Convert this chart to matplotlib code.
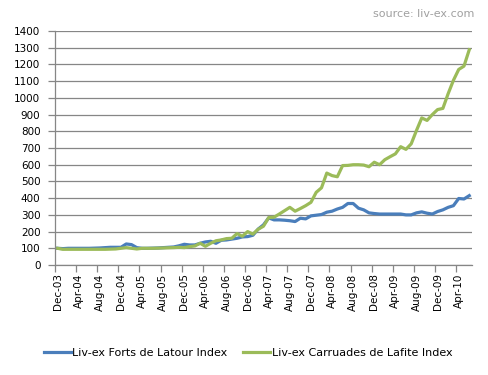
import matplotlib
matplotlib.use("Agg")
import matplotlib.pyplot as plt
import pandas as pd
from matplotlib.ticker import FixedLocator, MultipleLocator

# ------------------------------------------------------------
# Data (monthly index levels, Dec-03 = 100)
# ------------------------------------------------------------

months = pd.date_range("2003-12-01", "2010-06-01", freq="MS")

latour = [
    100, 98, 100, 100, 100, 100, 100, 101, 102, 104, 106, 106, 106,   # Dec-03 .. Dec-04
    126, 122, 104, 100, 100, 101, 102, 104, 106, 108, 115, 124,       # Jan-05 .. Dec-05
    120, 120, 130, 138, 142, 130, 148, 150, 155, 160, 168, 170,       # Jan-06 .. Dec-06
    178, 215, 240, 282, 270, 270, 268, 265, 260, 280, 276, 294,       # Jan-07 .. Dec-07
    298, 302, 316, 322, 335, 345, 368, 368, 340, 330, 312, 308,       # Jan-08 .. Dec-08
    305, 305, 305, 305, 305, 300, 300, 312, 318, 310, 305, 320,       # Jan-09 .. Dec-09
    330, 345, 355, 398, 395, 415,                                     # Jan-10 .. Jun-10
]

carruades = [
    100, 94, 94, 94, 94, 94, 94, 94, 94, 94, 95, 96, 100,             # Dec-03 .. Dec-04
    104, 100, 96, 100, 100, 100, 101, 102, 103, 104, 106, 104,        # Jan-05 .. Dec-05
    110, 114, 130, 112, 130, 145, 150, 158, 160, 188, 172, 200,       # Jan-06 .. Dec-06
    185, 214, 232, 284, 286, 305, 325, 345, 322, 338, 355, 375,       # Jan-07 .. Dec-07
    435, 462, 550, 535, 528, 595, 596, 600, 600, 598, 588, 615,       # Jan-08 .. Dec-08
    600, 630, 648, 665, 708, 692, 725, 805, 880, 865, 900, 930,       # Jan-09 .. Dec-09
    937, 1025, 1105, 1170, 1190, 1288,                                # Jan-10 .. Jun-10
]

series_names = ["Liv-ex Forts de Latour Index", "Liv-ex Carruades de Lafite Index"]
source_text = "source: liv-ex.com"

# ------------------------------------------------------------
# Plot
# ------------------------------------------------------------

BLUE = "#4A7EBB"
GREEN = "#9BBB59"
GRID = "#868686"

plt.rcParams["font.family"] = ["DejaVu Sans"]
plt.rcParams["font.size"] = 7.5

fig = plt.figure(figsize=(4.88, 3.75), dpi=100)
ax = fig.add_axes([0.1127, 0.2933, 0.8543, 0.624])

x = list(range(len(months)))
ax.plot(x, latour, color=BLUE, lw=2.3, label=series_names[0], solid_joinstyle="round")
ax.plot(x, carruades, color=GREEN, lw=2.3, label=series_names[1], solid_joinstyle="round")

ax.set_xlim(-0.5, len(months) - 0.5)
ax.set_ylim(0, 1400)
ax.yaxis.set_major_locator(MultipleLocator(100))
ax.grid(axis="y", color=GRID, lw=0.9)
ax.set_axisbelow(True)

for side in ("top", "right"):
    ax.spines[side].set_visible(False)
for side in ("left", "bottom"):
    ax.spines[side].set_color(GRID)
    ax.spines[side].set_linewidth(0.9)

# category ticks: marks at category boundaries, labels at centres
label_idx = list(range(0, len(months), 4))
ax.xaxis.set_major_locator(FixedLocator([i - 0.5 for i in label_idx]))
ax.xaxis.set_major_formatter(plt.NullFormatter())
ax.xaxis.set_minor_locator(FixedLocator(label_idx))
ax.set_xticklabels([months[i].strftime("%b-%y") for i in label_idx], minor=True,
                   rotation=90)
ax.tick_params(axis="x", which="major", length=5, color=GRID, width=0.9, direction="out")
ax.tick_params(axis="x", which="minor", length=0, pad=6, labelsize=7.5)
ax.tick_params(axis="y", length=5, color=GRID, width=0.9, pad=5.5, labelsize=7.5)

fig.text(0.973, 0.962, source_text, ha="right", va="center", color="#A0A0A0", fontsize=8)

fig.legend(loc="center", bbox_to_anchor=(0.508, 0.059), ncol=2, frameon=False,
           handlelength=2.5, handletextpad=0.1, columnspacing=1.35, fontsize=8)

fig.savefig("out.png", dpi=100)
